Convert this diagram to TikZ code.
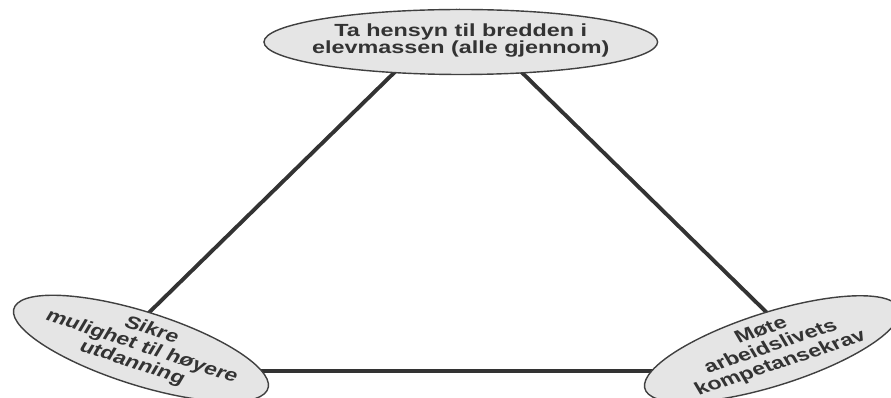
\documentclass[tikz,border=0pt]{standalone}
\usepackage{fontspec}
\setmainfont{Liberation Sans}
\usepackage{tikz}
\usetikzlibrary{shapes.geometric}
\usepackage{xcolor}

\newcommand{\ovaltext}[1]{\makebox[0pt]{\smash{\raisebox{-2pt}{\begin{tabular}{@{}c@{}}#1\end{tabular}}}}}

\begin{document}
\begin{tikzpicture}[
  xscale=1.33, transform shape,
  oval/.style={draw=black!75, line width=0.8pt, fill=black!10, ellipse, inner sep=0pt, text=black!80, font=\fontsize{10}{9.7}\selectfont\bfseries},
  link/.style={line width=2.2pt, draw=black!80}
]
\useasboundingbox (0,0) rectangle (13.4,7.96);
% triangle sides, ends hidden under the ovals
\coordinate (apex) at (6.89,7.76);
\coordinate (lside) at (1.82,1.16);
\coordinate (rside) at (11.95,1.16);
\coordinate (lbase) at (3.0,0.54);
\coordinate (rbase) at (10.5,0.54);
\draw[link] (apex) -- (lside);
\draw[link] (apex) -- (rside);
\draw[link] (lbase) -- (rbase);
\node[oval, minimum width=5.92cm, minimum height=1.3cm] (bredde) at (6.93,7.12) {\ovaltext{Ta hensyn til bredden i\\elevmassen (alle gjennom)}};
\node[oval, rotate=-24, minimum width=4.15cm, minimum height=1.42cm] (hoyere) at (2.12,0.99) {\ovaltext{Sikre\\mulighet til høyere\\utdanning}};
\node[oval, rotate=24, minimum width=4.15cm, minimum height=1.42cm] (arbeid) at (11.61,0.98) {\ovaltext{Møte\\arbeidslivets\\kompetansekrav}};
\end{tikzpicture}
\end{document}
